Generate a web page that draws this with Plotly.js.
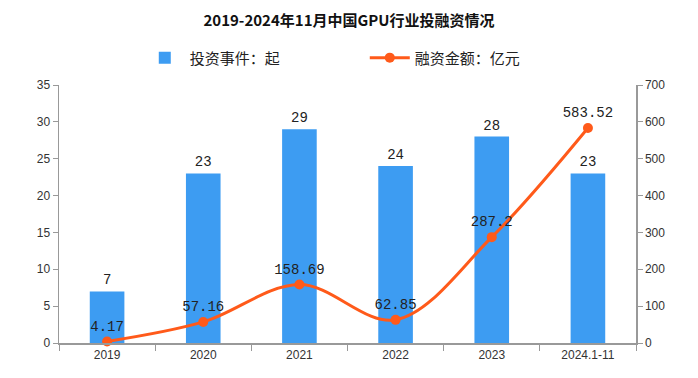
<!DOCTYPE html>
<html><head><meta charset="utf-8">
<script src="https://cdn.plot.ly/plotly-3.0.1.min.js"></script>
<style>html,body{margin:0;padding:0;background:#fff}#c{width:698px;height:378px}</style>
</head><body><div id="c"></div>
<script>
const categories = ["2019","2020","2021","2022","2023","2024.1-11"];
const investEvents = [7,23,29,24,28,23];
const financingAmount = [4.17,57.16,158.69,62.85,287.2,583.52];
const eventLabels = investEvents.map(String);
const amountLabels = ["4.17","57.16","158.69","62.85","287.2","583.52"];

const traces = [
  {type:"bar", x:categories, y:investEvents, name:"投资事件：起",
   marker:{color:"#3d9cf2"}, width:0.36,
   text:eventLabels, textposition:"outside", cliponaxis:false,
   textfont:{family:"Liberation Mono, monospace", size:14, color:"#222"}},
  {type:"scatter", mode:"lines+markers+text", x:categories, y:financingAmount, yaxis:"y2",
   name:"融资金额：亿元", line:{color:"#ff5a1a", width:3, shape:"spline", smoothing:1},
   marker:{color:"#ff5a1a", size:10},
   text:amountLabels, textposition:"top center", cliponaxis:false,
   textfont:{family:"Liberation Mono, monospace", size:14, color:"#222"}}
];
const axisFont = {family:"Liberation Sans, Arial, sans-serif", size:12, color:"#333"};
const layout = {
  width:698, height:378,
  margin:{l:59, r:62, t:85, b:35},
  paper_bgcolor:"#fff", plot_bgcolor:"#fff",
  title:{text:"2019-2024年11月中国GPU行业投融资情况", x:0.5, xanchor:"center", y:0.945, yanchor:"middle",
         font:{family:"Noto Sans CJK SC", size:15, color:"#111", weight:"bold"}},
  showlegend:true,
  legend:{orientation:"h", x:0.14, xanchor:"left", y:1.105, yanchor:"middle",
          font:{family:"Noto Sans CJK SC", size:15, color:"#222"}, traceorder:"normal",
          itemwidth:40, entrywidthmode:"pixels", entrywidth:170},
  xaxis:{type:"category", showline:true, linecolor:"#999", linewidth:1.5,
         ticks:"outside", tickson:"boundaries", ticklen:6, tickcolor:"#999",
         showgrid:false, tickfont:axisFont, zeroline:false},
  yaxis:{range:[0,35], dtick:5, showline:true, linecolor:"#999", linewidth:1.5,
         ticks:"outside", ticklen:5, tickcolor:"#999", showgrid:false,
         zeroline:false, tickfont:axisFont},
  yaxis2:{range:[0,700], dtick:100, overlaying:"y", side:"right", showline:true,
          linecolor:"#999", linewidth:1.5, ticks:"outside", ticklen:5, tickcolor:"#999",
          showgrid:false, zeroline:false, tickfont:axisFont}
};
Plotly.newPlot("c", traces, layout, {displayModeBar:false, staticPlot:true});
</script></body></html>
